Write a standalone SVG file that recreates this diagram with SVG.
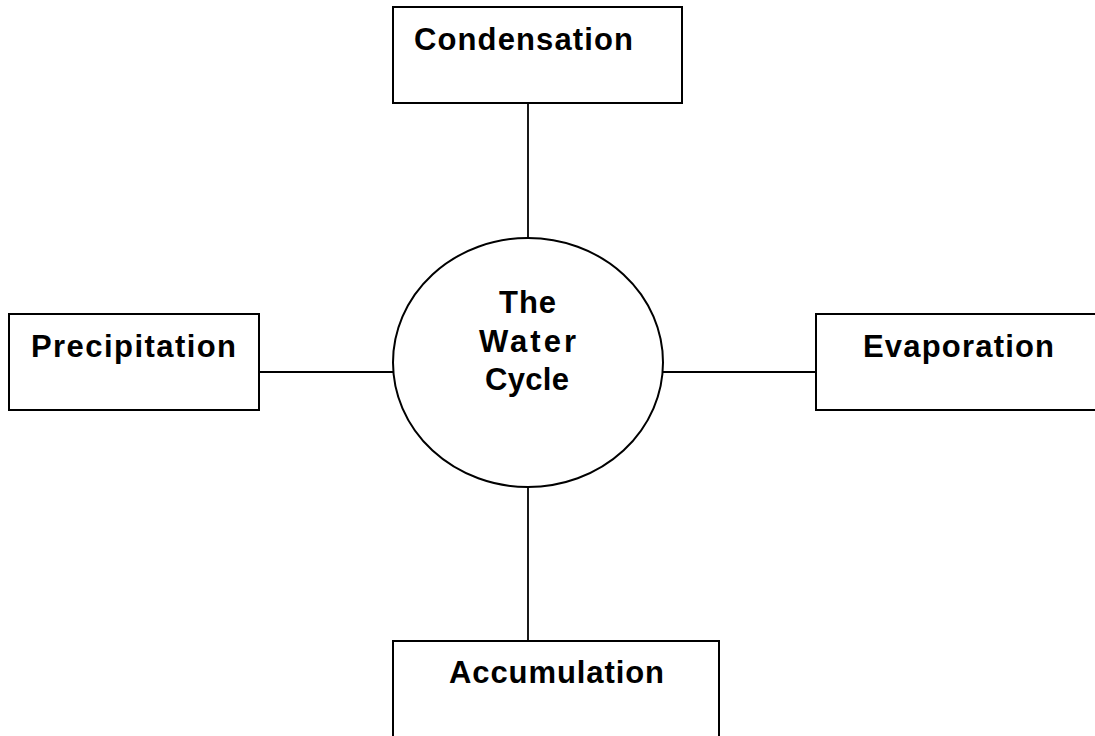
<svg xmlns="http://www.w3.org/2000/svg" width="1095" height="736" viewBox="0 0 1095 736">
<style>
.box{fill:#fff;stroke:#000;stroke-width:2}
.lbl{font-family:"Liberation Sans",Arial,sans-serif;font-weight:bold;font-size:31px;fill:#000}
.conn{stroke:#000;stroke-width:1.8;fill:none}
</style>
<rect width="1095" height="736" fill="#fff"/>
<g id="connectors">
<line class="conn" x1="528" y1="103" x2="528" y2="238"/>
<line class="conn" x1="528" y1="487" x2="528" y2="641"/>
<line class="conn" x1="259" y1="372" x2="393" y2="372"/>
<line class="conn" x1="663" y1="372" x2="816" y2="372"/>
</g>
<g id="condensation">
<rect class="box" x="393" y="7" width="289" height="96"/>
<text class="lbl" x="414" y="50" textLength="219" lengthAdjust="spacing">Condensation</text>
</g>
<g id="precipitation">
<rect class="box" x="9" y="314" width="250" height="96"/>
<text class="lbl" x="31" y="357" textLength="205" lengthAdjust="spacing">Precipitation</text>
</g>
<g id="evaporation">
<rect class="box" x="816" y="314" width="290" height="96"/>
<text class="lbl" x="863" y="357" textLength="191" lengthAdjust="spacing">Evaporation</text>
</g>
<g id="accumulation">
<rect class="box" x="393" y="641" width="326" height="110"/>
<text class="lbl" x="449" y="683" textLength="215" lengthAdjust="spacing">Accumulation</text>
</g>
<g id="water-cycle">
<ellipse class="box" cx="528" cy="362.5" rx="135" ry="124.5"/>
<text class="lbl" x="499" y="313" textLength="57" lengthAdjust="spacing">The</text>
<text class="lbl" x="479" y="352" textLength="97" lengthAdjust="spacing">Water</text>
<text class="lbl" x="485" y="390" textLength="84" lengthAdjust="spacing">Cycle</text>
</g>
</svg>
